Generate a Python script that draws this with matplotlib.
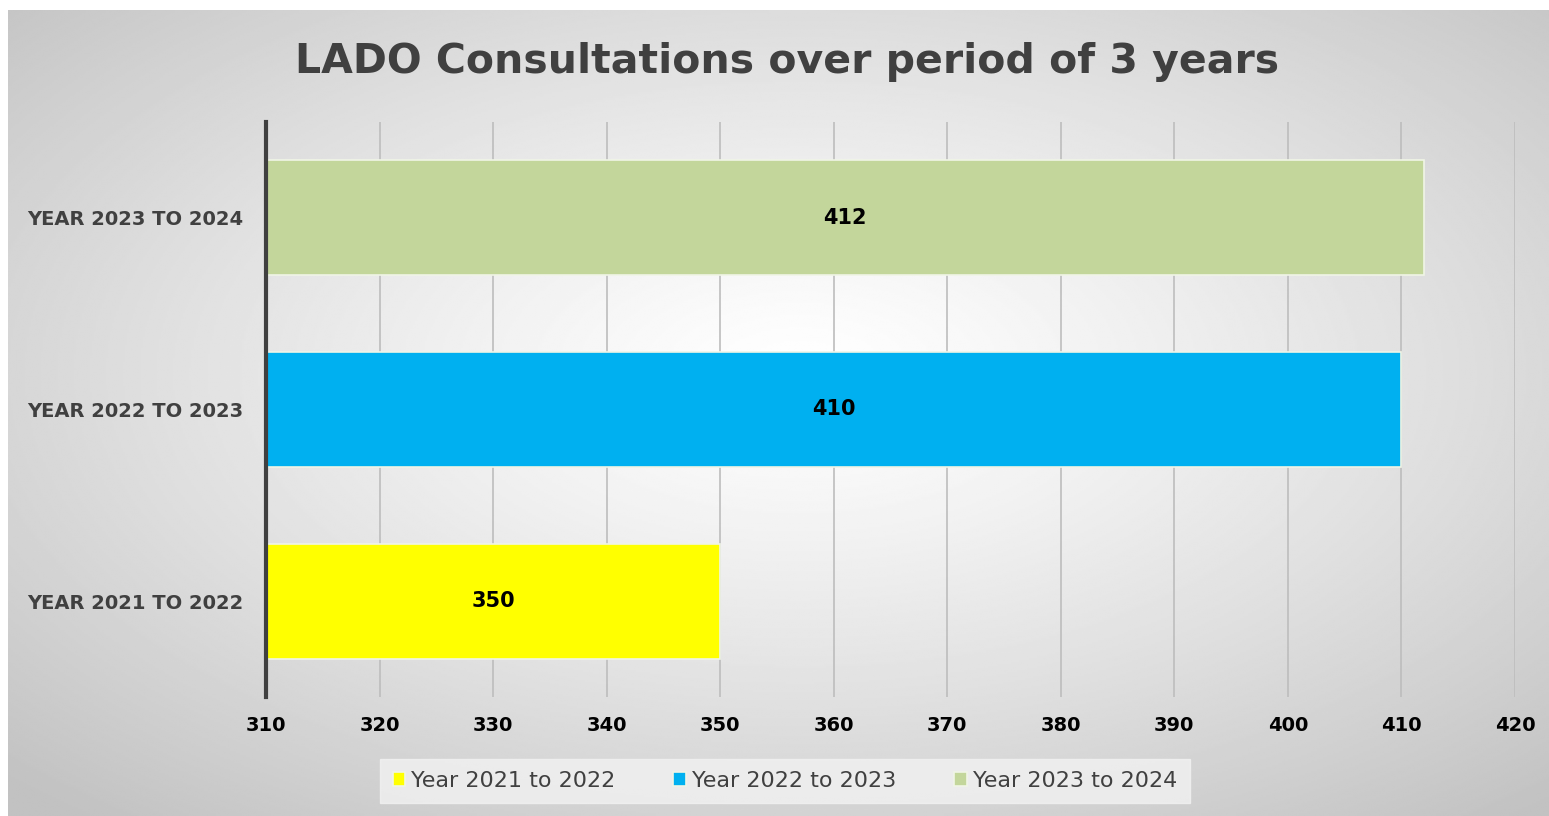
import numpy as np
import matplotlib
matplotlib.use('Agg')
from matplotlib import pyplot as plt

categories = ['YEAR 2021 TO 2022', 'YEAR 2022 TO 2023', 'YEAR 2023 TO 2024']
legend_labels = ['Year 2021 to 2022', 'Year 2022 to 2023', 'Year 2023 to 2024']
values = [350, 410, 412]
colors = ['#FFFF00', '#00B0F0', '#C3D69B']
x_ticks = [310, 320, 330, 340, 350, 360, 370, 380, 390, 400, 410, 420]

W, H = 1549, 816
fig = plt.figure(figsize=(W / 100, H / 100), dpi=100)
fig.patch.set_facecolor('white')

# radial grey background
bg = fig.add_axes([8 / W, 0, (W - 8) / W, (H - 10) / H], zorder=0)
yy, xx = np.mgrid[0:400, 0:760]
d = np.sqrt(((xx - 390) / 760) ** 2 + ((yy - 180) / 400) ** 2)
shade = 1.0 - 0.24 * np.clip(d / 0.72, 0, 1) ** 1.2
bg.imshow(shade, cmap='gray', vmin=0, vmax=1, aspect='auto', interpolation='bilinear')
bg.set_axis_off()

ax = fig.add_axes([266 / W, 1 - 697 / H, (1515 - 266) / W, (697 - 122) / H], zorder=1)
ax.patch.set_alpha(0)

for i, (v, c, lab) in enumerate(zip(values, colors, legend_labels)):
    ax.barh(i, v - 310, left=310, height=0.6, color=c, edgecolor='#f0f5e6', linewidth=1.2, label=lab, zorder=3)
    ax.text(310 + (v - 310) / 2, i, str(v), ha='center', va='center',
            fontsize=15, fontweight='bold', color='black', zorder=4)

ax.set_xlim(310, 420)
ax.set_ylim(-0.5, 2.5)
ax.set_xticks(x_ticks)
ax.set_xticklabels([str(t) for t in x_ticks], fontsize=14, fontweight='bold', color='black')
ax.set_yticks(range(len(categories)))
ax.set_yticklabels(categories, fontsize=14, fontweight='bold', color='#404040')
ax.tick_params(axis='both', length=0)
ax.tick_params(axis='x', pad=14)
ax.tick_params(axis='y', pad=16)
ax.grid(axis='x', color='#bdbdbd', linewidth=1.2, zorder=1)
for s in ['top', 'right', 'bottom']:
    ax.spines[s].set_visible(False)
ax.spines['left'].set_color('#404040')
ax.spines['left'].set_linewidth(3)
ax.spines['left'].set_zorder(5)

fig.text(0.508, 1 - 62 / H, 'LADO Consultations over period of 3 years', ha='center', va='center',
         fontsize=29.5, fontweight='bold', color='#404040')

leg = fig.legend(loc='center', bbox_to_anchor=(785 / W, 1 - 781 / H), ncol=3, fontsize=16,
                 frameon=True, fancybox=False, handlelength=0.55, handleheight=0.55,
                 handletextpad=0.3, columnspacing=2.6, borderpad=0.55)
leg.get_frame().set_facecolor('#f2f2f2')
leg.get_frame().set_edgecolor('#f2f2f2')
for t in leg.get_texts():
    t.set_color('#404040')

fig.savefig('out.png', dpi=100)
